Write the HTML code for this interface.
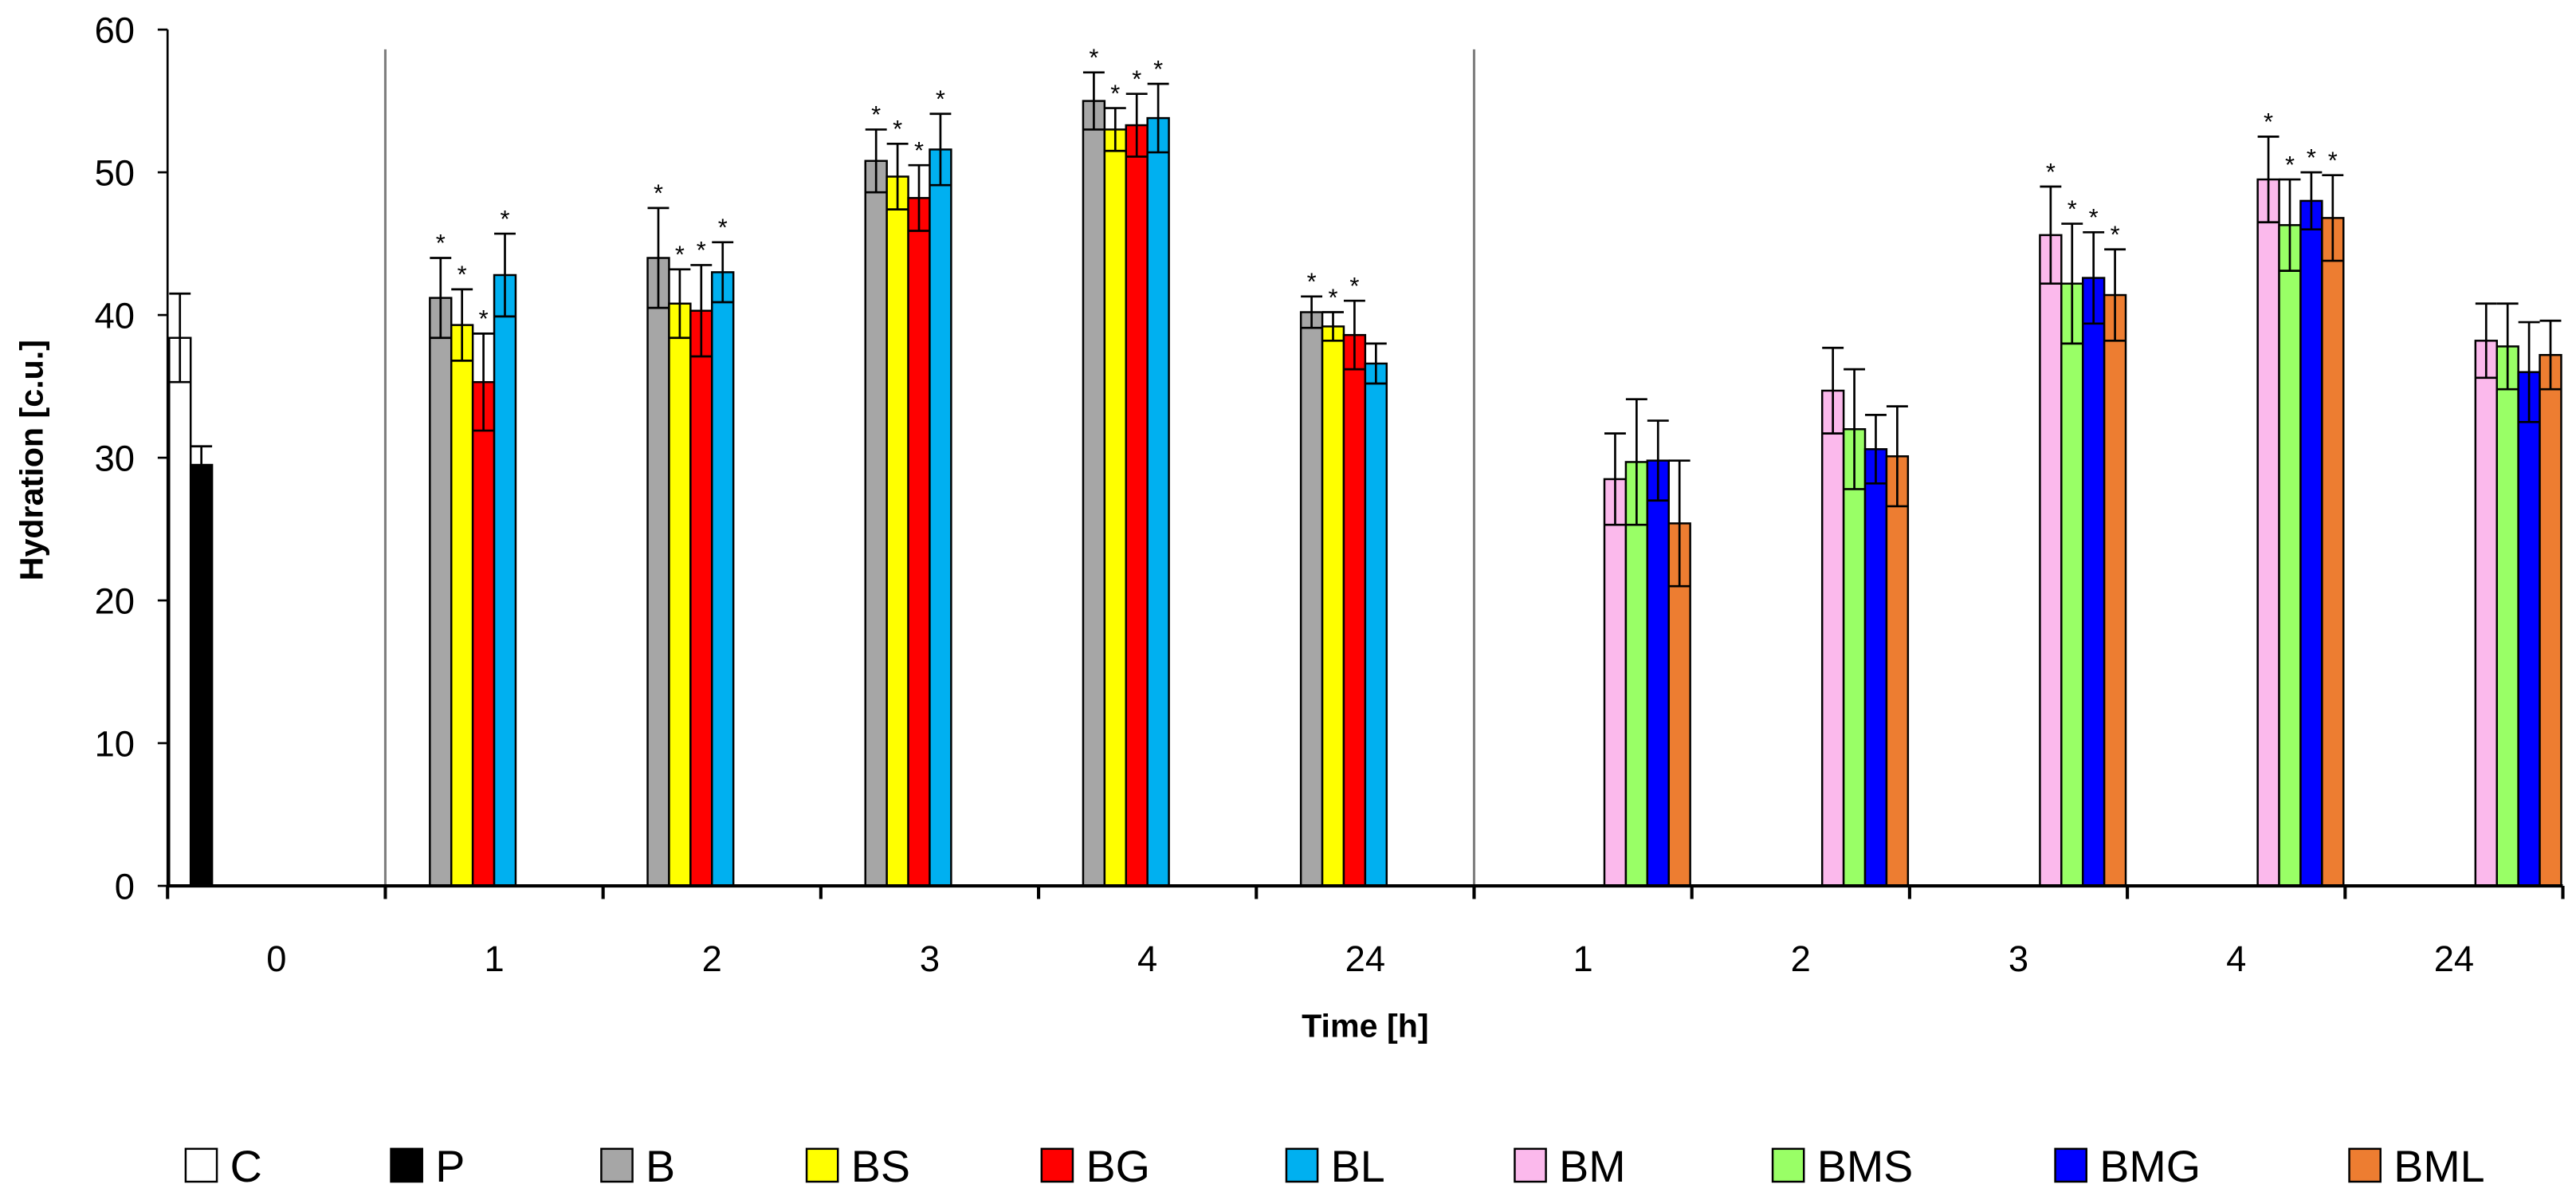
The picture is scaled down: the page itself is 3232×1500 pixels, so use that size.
<!DOCTYPE html>
<html><head><meta charset="utf-8"><style>
html,body{margin:0;padding:0;background:#fff;}
svg{display:block;font-family:"Liberation Sans",sans-serif;}
</style></head><body>
<svg id="chart" width="3232" height="1500" viewBox="0 0 1568 727.7" xmlns="http://www.w3.org/2000/svg">
</svg>
<script>
const categories = ["0","1","2","3","4","24","1","2","3","4","24"];
const seriesNames = ["C","P","B","BS","BG","BL","BM","BMS","BMG","BML"];
const seriesColors = ["#ffffff","#000000","#a6a6a6","#ffff00","#ff0000","#00b0f0","#fbb9ec","#99ff66","#0000ff","#ed7d31"];
const valC   = [38.4,null,null,null,null,null,null,null,null,null,null];
const valP   = [29.5,null,null,null,null,null,null,null,null,null,null];
const valB   = [null,41.2,44.0,50.8,55.0,40.2,null,null,null,null,null];
const valBS  = [null,39.3,40.8,49.7,53.0,39.2,null,null,null,null,null];
const valBG  = [null,35.3,40.3,48.2,53.3,38.6,null,null,null,null,null];
const valBL  = [null,42.8,43.0,51.6,53.8,36.6,null,null,null,null,null];
const valBM  = [null,null,null,null,null,null,28.5,34.7,45.6,49.5,38.2];
const valBMS = [null,null,null,null,null,null,29.7,32.0,42.2,46.3,37.8];
const valBMG = [null,null,null,null,null,null,29.8,30.6,42.6,48.0,36.0];
const valBML = [null,null,null,null,null,null,25.4,30.1,41.4,46.8,37.2];
const errC   = [3.1,0,0,0,0,0,0,0,0,0,0];
const errP   = [1.3,0,0,0,0,0,0,0,0,0,0];
const errB   = [0,2.8,3.5,2.2,2.0,1.1,0,0,0,0,0];
const errBS  = [0,2.5,2.4,2.3,1.5,1.0,0,0,0,0,0];
const errBG  = [0,3.4,3.2,2.3,2.2,2.4,0,0,0,0,0];
const errBL  = [0,2.9,2.1,2.5,2.4,1.4,0,0,0,0,0];
const errBM  = [0,0,0,0,0,0,3.2,3.0,3.4,3.0,2.6];
const errBMS = [0,0,0,0,0,0,4.4,4.2,4.2,3.2,3.0];
const errBMG = [0,0,0,0,0,0,2.8,2.4,3.2,2.0,3.5];
const errBML = [0,0,0,0,0,0,4.4,3.5,3.2,3.0,2.4];
const starB   = [0,1,1,1,1,1,0,0,0,0,0];
const starBS  = [0,1,1,1,1,1,0,0,0,0,0];
const starBG  = [0,1,1,1,1,1,0,0,0,0,0];
const starBL  = [0,1,1,1,1,0,0,0,0,0,0];
const starBM  = [0,0,0,0,0,0,0,0,1,1,0];
const starBMS = [0,0,0,0,0,0,0,0,1,1,0];
const starBMG = [0,0,0,0,0,0,0,0,1,1,0];
const starBML = [0,0,0,0,0,0,0,0,1,1,0];
const starC = [0,0,0,0,0,0,0,0,0,0,0];
const starP = [0,0,0,0,0,0,0,0,0,0,0];
const yTicks = [0,10,20,30,40,50,60];
const legendX = [113,238,366,491,634,783,922,1079,1251,1430];

const values = [valC,valP,valB,valBS,valBG,valBL,valBM,valBMS,valBMG,valBML];
const errs = [errC,errP,errB,errBS,errBG,errBL,errBM,errBMS,errBMG,errBML];
const stars = [starC,starP,starB,starBS,starBG,starBL,starBM,starBMS,starBMG,starBML];

const NS="http://www.w3.org/2000/svg";
const svg=document.getElementById('chart');
const X0=102, X1=1560, Y0=539, Y60=18;
const catW=(X1-X0)/categories.length;
const slotW=catW*0.985/10;
function yS(v){return Y0-(v/60)*(Y0-Y60);}
function xCat(i){return X0+i*catW;}
function mk(tag,attrs,parent){const e=document.createElementNS(NS,tag);for(const k in attrs)e.setAttribute(k,attrs[k]);(parent||svg).appendChild(e);return e;}

[1,6].forEach(i=>{
  const l=mk('line',{x1:xCat(i),x2:xCat(i),y1:30,y2:Y0,stroke:'#7f7f7f','stroke-width':1.5});
  
  
});

for(let s=0;s<values.length;s++){
  for(let c=0;c<categories.length;c++){
    const v=values[s][c]; if(v==null) continue;
    const x=xCat(c)+catW*0.0075+s*slotW;
    const r=mk('rect',{x:x,y:yS(v),width:slotW,height:Y0-yS(v),fill:seriesColors[s],stroke:'#000','stroke-width':1.2});
    
    
    const e=errs[s][c];
    if(e>0){
      const cx=x+slotW/2, hw=slotW/2;
      const g=mk('g',{stroke:'#000','stroke-width':1.3});
      
      
      mk('line',{x1:cx,x2:cx,y1:yS(v-e),y2:yS(v+e)},g);
      mk('line',{x1:cx-hw,x2:cx+hw,y1:yS(v+e),y2:yS(v+e)},g);
      mk('line',{x1:cx-hw,x2:cx+hw,y1:yS(v-e),y2:yS(v-e)},g);
    }
    if(stars[s][c]){
      const t=mk('text',{x:x+slotW/2,y:yS(v+e)-4,'text-anchor':'middle','font-size':15,fill:'#000'});
      t.textContent='*';
      
      
    }
  }
}

const ya=mk('line',{x1:X0,x2:X0,y1:Y60,y2:Y0,stroke:'#000','stroke-width':1.3});


yTicks.forEach(t=>{
  mk('line',{x1:X0-6,x2:X0,y1:yS(t),y2:yS(t),stroke:'#000','stroke-width':1.3});
  const lb=mk('text',{x:X0-20,y:yS(t)+8,'text-anchor':'end','font-size':22,fill:'#000'});
  lb.textContent=t;
  
  
});
const xa=mk('line',{x1:X0,x2:X1,y1:Y0,y2:Y0,stroke:'#000','stroke-width':2});


for(let i=0;i<=categories.length;i++){
  mk('line',{x1:xCat(i),x2:xCat(i),y1:Y0,y2:Y0+8,stroke:'#000','stroke-width':2});
}
categories.forEach((c,i)=>{
  const t=mk('text',{x:xCat(i)+catW/2,y:591,'text-anchor':'middle','font-size':22,fill:'#000'});
  t.textContent=c;
  
  
});
const xt=mk('text',{x:831,y:631,'text-anchor':'middle','font-size':20,'font-weight':'bold',fill:'#000'});
xt.textContent='Time [h]';


const yt=mk('text',{x:0,y:0,'text-anchor':'middle','font-size':20,'font-weight':'bold',fill:'#000',transform:'translate(26,280) rotate(-90)'});
yt.textContent='Hydration [c.u.]';



seriesNames.forEach((n,i)=>{
  const g=mk('g',{});
  
  
  mk('rect',{x:legendX[i],y:699,width:19,height:20,fill:seriesColors[i],stroke:'#000','stroke-width':1.2},g);
  const t=mk('text',{x:legendX[i]+27,y:719,'font-size':27,fill:'#000'},g);
  t.textContent=n;
});
</script>
</body></html>
